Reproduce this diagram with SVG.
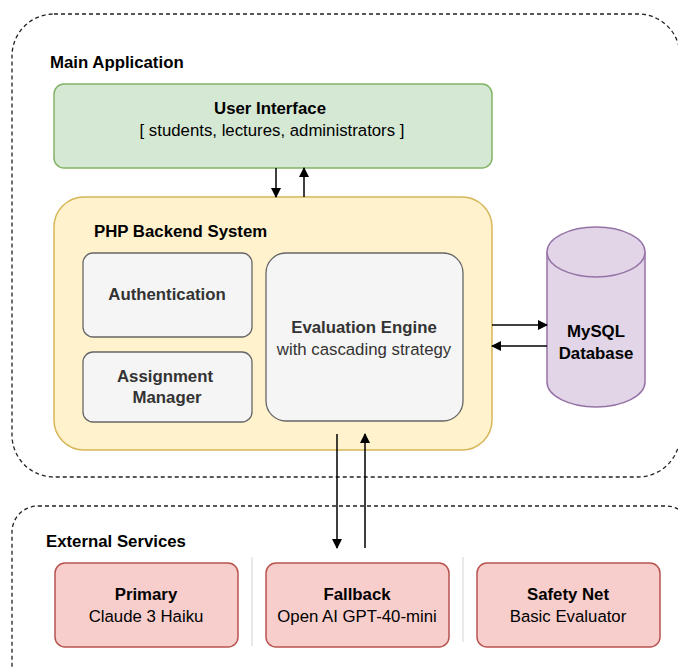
<svg xmlns="http://www.w3.org/2000/svg" width="678" height="669" viewBox="0 0 678 669">
<defs>
<marker id="ah" viewBox="0 0 10 10" refX="9" refY="5" markerWidth="10" markerHeight="10" markerUnits="userSpaceOnUse" orient="auto"><path d="M0,0 L10,5 L0,10 z" fill="#000"/></marker>
<style>
text{font-family:"Liberation Sans",Arial,Helvetica,sans-serif;font-size:16.8px;fill:#000;text-anchor:middle}
.b{font-weight:bold}
.l{text-anchor:start}
.grp{fill:none;stroke:#222;stroke-width:1.3;stroke-dasharray:4 3}
.ui{fill:#d5e8d4;stroke:#82b366;stroke-width:1.5}
.php{fill:#fff2cc;stroke:#d6b656;stroke-width:1.5}
.mod{fill:#f5f5f5;stroke:#666;stroke-width:1.3}
.mod-t{fill:#333}
.db{fill:#e1d5e7;stroke:#9673a6;stroke-width:1.5}
.ext{fill:#f8cecc;stroke:#b85450;stroke-width:1.5}
.sep{stroke:#ddd;stroke-width:1.3}
.c{fill:none;stroke:#000;stroke-width:1.5;marker-end:url(#ah)}
</style>
</defs>
<rect width="678" height="669" fill="#fff"/>
<g id="main-application">
<rect class="grp" x="12" y="14" width="668" height="463" rx="42"/>
<text class="b l" x="50" y="68">Main Application</text>
</g>
<g id="external-services">
<rect class="grp" x="12" y="506" width="680" height="190" rx="26"/>
<text class="b l" x="46" y="547">External Services</text>
<line class="sep" x1="252" y1="557" x2="252" y2="646"/>
<line class="sep" x1="463" y1="557" x2="463" y2="642"/>
</g>
<g id="user-interface">
<rect class="ui" x="54" y="84" width="438" height="84" rx="10"/>
<text class="b" x="270" y="114">User Interface</text>
<text x="272" y="136">[ students, lectures, administrators ]</text>
</g>
<g id="php-backend">
<rect class="php" x="54" y="197" width="438" height="253" rx="30"/>
<text class="b l" x="94" y="237">PHP Backend System</text>
</g>
<g id="authentication">
<rect class="mod" x="83" y="253" width="169" height="84" rx="10"/>
<text class="b mod-t" x="167" y="300">Authentication</text>
</g>
<g id="assignment-manager">
<rect class="mod" x="83" y="352" width="169" height="70" rx="10"/>
<text class="b mod-t" x="165" y="382">Assignment</text>
<text class="b mod-t" x="167" y="403">Manager</text>
</g>
<g id="evaluation-engine">
<rect class="mod" x="266" y="253" width="197" height="168" rx="20"/>
<text class="b mod-t" x="364" y="333">Evaluation Engine</text>
<text class="mod-t" x="364" y="355">with cascading strategy</text>
</g>
<g id="mysql-database">
<path class="db" d="M547,252 A49,25 0 0 1 645,252 L645,382 A49,25 0 0 1 547,382 Z"/>
<path class="db" d="M547,252 A49,25 0 0 0 645,252" fill="none"/>
<text class="b" x="596" y="337">MySQL</text>
<text class="b" x="596" y="359">Database</text>
</g>
<g id="primary">
<rect class="ext" x="55" y="563" width="183" height="84" rx="10"/>
<text class="b" x="146" y="600">Primary</text>
<text x="146" y="622">Claude 3 Haiku</text>
</g>
<g id="fallback">
<rect class="ext" x="266" y="563" width="183" height="84" rx="10"/>
<text class="b" x="357" y="600">Fallback</text>
<text x="357" y="622">Open AI GPT-40-mini</text>
</g>
<g id="safety-net">
<rect class="ext" x="477" y="563" width="183" height="84" rx="10"/>
<text class="b" x="568" y="600">Safety Net</text>
<text x="568" y="622">Basic Evaluator</text>
</g>
<g id="connectors">
<line class="c" x1="276" y1="168" x2="276" y2="197"/>
<line class="c" x1="304" y1="197" x2="304" y2="168"/>
<line class="c" x1="492" y1="325" x2="547" y2="325"/>
<line class="c" x1="547" y1="346" x2="492" y2="346"/>
<line class="c" x1="337" y1="434" x2="337" y2="548"/>
<line class="c" x1="365" y1="548" x2="365" y2="434"/>
</g>
</svg>
